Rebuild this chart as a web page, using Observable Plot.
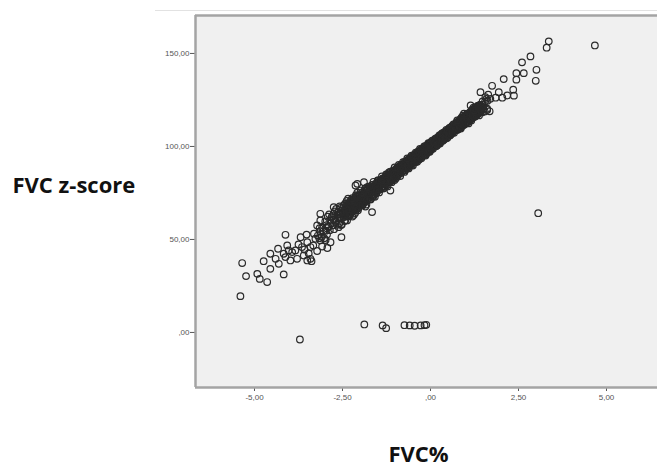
<!DOCTYPE html>
<html>
<head>
<meta charset="utf-8">
<script src="https://cdn.jsdelivr.net/npm/d3@7"></script>
<script src="https://cdn.jsdelivr.net/npm/@observablehq/plot@0.6"></script>
<style>
  html, body { margin: 0; padding: 0; background: #ffffff; }
  #wrap { position: relative; width: 657px; height: 469px; overflow: hidden; }
  #topline { position: absolute; top: 10px; left: 155px; right: 0; height: 1px; background: #e2e2e2; }
</style>
</head>
<body>
<div id="wrap"><div id="topline"></div></div>
<script>
// x: FVC z-score value, y: FVC % predicted (axis titles as in the original figure)
const xTicks = [-5, -2.5, 0, 2.5, 5];
const yTicks = [0, 50, 100, 150];
const xTitle = "FVC%";
const yTitle = "FVC z-score";

const bandLow = [
[-3.20,52.1],[-3.16,50.7],[-3.15,56.1],[-3.13,54.4],
[-3.09,51.5],[-3.08,56.3],[-3.04,54.4],[-3.02,50.7],
[-2.99,59.7],[-2.97,54.7],[-2.95,57.7],[-2.94,52.6],[-2.92,62.2],[-2.91,57.1],
[-2.90,56.5],[-2.88,63.5],[-2.86,55.0],[-2.85,60.4],[-2.83,58.7],[-2.81,61.8],
[-2.79,62.6],[-2.77,57.6],[-2.75,60.6],[-2.74,55.5],[-2.72,65.1],[-2.71,60.0],
[-2.70,59.4],[-2.68,66.4],[-2.66,57.9],[-2.65,63.3],[-2.63,61.6],[-2.61,64.7],
[-2.59,58.7],[-2.58,63.6],[-2.56,66.9],[-2.54,61.7],[-2.53,65.6],[-2.52,58.0],
[-2.49,66.9],[-2.47,61.9],[-2.45,65.0],[-2.44,59.9],[-2.42,69.4],[-2.41,64.3],
[-2.40,63.7],[-2.38,70.7],[-2.36,62.3],[-2.35,67.7],[-2.33,66.0],[-2.31,69.0],
[-2.29,63.1],[-2.28,67.9],[-2.26,71.2],[-2.24,66.0],[-2.23,69.9],[-2.22,62.3],
[-2.19,71.3],[-2.17,66.3],[-2.15,69.3],[-2.14,64.2],[-2.12,73.8],[-2.11,68.7],
[-2.10,68.1],[-2.08,75.1],[-2.06,66.6],[-2.05,72.0],[-2.03,70.3],[-2.01,73.4]
];

const bandMid = [
[-1.99,68.9],[-1.98,71.9],[-1.96,74.0],[-1.94,71.0],[-1.93,73.4],[-1.92,68.9],
[-1.89,74.4],[-1.87,71.5],[-1.85,73.5],[-1.84,70.5],[-1.82,76.3],[-1.81,73.3],
[-1.80,73.0],[-1.78,77.3],[-1.76,72.4],[-1.75,75.7],[-1.73,74.8],[-1.71,76.7],
[-1.69,73.3],[-1.68,76.2],[-1.66,78.3],[-1.64,75.3],[-1.63,77.7],[-1.62,73.2],
[-1.59,78.8],[-1.57,75.9],[-1.55,77.8],[-1.54,74.8],[-1.52,80.7],[-1.51,77.7],
[-1.50,77.4],[-1.48,81.7],[-1.46,76.7],[-1.45,80.0],[-1.43,79.1],[-1.41,81.1],
[-1.39,77.6],[-1.38,80.6],[-1.36,82.7],[-1.34,79.7],[-1.33,82.1],[-1.32,77.6],
[-1.29,83.1],[-1.27,80.2],[-1.25,82.2],[-1.24,79.2],[-1.22,85.0],[-1.21,82.0],
[-1.20,81.7],[-1.18,86.0],[-1.16,81.1],[-1.15,84.4],[-1.13,83.5],[-1.11,85.4],
[-1.09,82.0],[-1.08,84.9],[-1.06,87.0],[-1.04,84.0],[-1.03,86.4],[-1.02,81.9],
[-0.99,86.9],[-0.97,85.0],[-0.95,86.4],[-0.94,84.5],[-0.92,88.5],[-0.91,86.5],
[-0.90,86.4],[-0.88,89.3],[-0.86,86.1],[-0.85,88.4],[-0.83,87.9],[-0.81,89.3],
[-0.79,87.1],[-0.78,89.1],[-0.76,90.6],[-0.74,88.7],[-0.73,90.3],[-0.72,87.4],
[-0.69,91.2],[-0.67,89.4],[-0.65,90.8],[-0.64,88.8],[-0.62,92.8],[-0.61,90.9],
[-0.60,90.7],[-0.58,93.7],[-0.56,90.5],[-0.55,92.7],[-0.53,92.2],[-0.51,93.6],
[-0.49,91.4],[-0.48,93.4],[-0.46,94.9],[-0.44,93.0],[-0.43,94.7],[-0.42,91.7],
[-0.39,95.6],[-0.37,93.7],[-0.35,95.1],[-0.34,93.2],[-0.32,97.2],[-0.31,95.2],
[-0.30,95.1],[-0.28,98.0],[-0.26,94.8],[-0.25,97.1],[-0.23,96.6],[-0.21,98.0],
[-0.19,95.8],[-0.18,97.8],[-0.16,99.3],[-0.14,97.4],[-0.13,99.0],[-0.12,96.1],
[-0.09,99.9],[-0.07,98.1],[-0.05,99.5],[-0.04,97.5],[-0.02,101.5],[-0.01,99.6],
[0.00,99.4],[0.02,102.4],[0.04,99.2],[0.05,101.4],[0.07,100.9],[0.09,102.3],
[0.11,100.1],[0.12,102.1],[0.14,103.6],[0.16,101.7],[0.17,103.4],[0.18,100.4],
[0.21,104.3],[0.23,102.4],[0.25,103.8],[0.26,101.9],[0.28,105.9],[0.29,103.9],
[0.30,103.8],[0.32,106.7],[0.34,103.5],[0.35,105.8],[0.37,105.3],[0.39,106.7],
[0.41,104.5],[0.42,106.5],[0.44,108.0],[0.46,106.1],[0.47,107.7],[0.48,104.8],
[0.51,108.6],[0.53,106.8],[0.55,108.2],[0.56,106.2],[0.58,110.2],[0.59,108.3],
[0.60,108.1],[0.62,111.1],[0.64,107.9],[0.65,110.1],[0.67,109.6],[0.69,111.0],
[0.71,108.8],[0.72,110.8],[0.74,112.3],[0.76,110.4],[0.77,112.1],[0.78,109.1]
];

const bandCore = [
[-2.60,63.5],[-2.58,61.6],[-2.56,63.3],[-2.54,61.6],[-2.52,65.3],
[-2.50,63.6],[-2.48,64.8],[-2.46,63.1],[-2.44,64.6],[-2.42,66.3],
[-2.40,66.4],[-2.38,64.5],[-2.36,66.2],[-2.34,64.5],[-2.32,68.2],
[-2.30,66.5],[-2.28,67.7],[-2.26,66.0],[-2.24,67.5],[-2.22,69.2],
[-2.20,69.3],[-2.18,67.4],[-2.16,69.1],[-2.14,67.4],[-2.12,71.1],
[-2.10,69.4],[-2.08,70.6],[-2.06,68.9],[-2.04,70.4],[-2.02,72.1],
[-2.00,72.2],[-1.98,70.3],[-1.96,72.0],[-1.94,70.3],[-1.92,74.0],
[-1.90,72.3],[-1.88,73.5],[-1.86,71.8],[-1.84,73.3],[-1.82,75.0],
[-1.80,74.5],[-1.78,73.7],[-1.76,74.7],[-1.74,74.0],[-1.72,76.0],
[-1.70,75.3],[-1.68,76.0],[-1.66,75.3],[-1.64,76.2],[-1.62,77.2],
[-1.60,77.4],[-1.58,76.6],[-1.56,77.6],[-1.54,76.9],[-1.52,78.9],
[-1.50,78.2],[-1.48,78.9],[-1.46,78.2],[-1.44,79.1],[-1.42,80.1],
[-1.40,80.3],[-1.38,79.5],[-1.36,80.5],[-1.34,79.8],[-1.32,81.8],
[-1.30,81.1],[-1.28,81.8],[-1.26,81.1],[-1.24,82.0],[-1.22,83.0],
[-1.20,83.2],[-1.18,82.4],[-1.16,83.4],[-1.14,82.7],[-1.12,84.7],
[-1.10,84.0],[-1.08,84.7],[-1.06,84.0],[-1.04,84.9],[-1.02,85.9],
[-1.00,86.1],[-0.98,85.3],[-0.96,86.3],[-0.94,85.6],[-0.92,87.6],
[-0.90,86.9],[-0.88,87.6],[-0.86,86.9],[-0.84,87.8],[-0.82,88.8],
[-0.80,89.0],[-0.78,88.2],[-0.76,89.2],[-0.74,88.5],[-0.72,90.5],
[-0.70,89.8],[-0.68,90.5],[-0.66,89.8],[-0.64,90.7],[-0.62,91.7],
[-0.60,91.9],[-0.58,91.1],[-0.56,92.1],[-0.54,91.4],[-0.52,93.4],
[-0.50,92.7],[-0.48,93.4],[-0.46,92.7],[-0.44,93.6],[-0.42,94.6],
[-0.40,94.8],[-0.38,94.0],[-0.36,95.0],[-0.34,94.3],[-0.32,96.3],
[-0.30,95.6],[-0.28,96.3],[-0.26,95.6],[-0.24,96.5],[-0.22,97.5],
[-0.20,97.7],[-0.18,96.9],[-0.16,97.9],[-0.14,97.2],[-0.12,99.2],
[-0.10,98.5],[-0.08,99.2],[-0.06,98.5],[-0.04,99.4],[-0.02,100.4],
[0.00,100.6],[0.02,99.8],[0.04,100.8],[0.06,100.1],[0.08,102.1],
[0.10,101.4],[0.12,102.1],[0.14,101.4],[0.16,102.3],[0.18,103.3],
[0.20,103.5],[0.22,102.7],[0.24,103.7],[0.26,103.0],[0.28,105.0],
[0.30,104.3],[0.32,105.0],[0.34,104.3],[0.36,105.2],[0.38,106.2],
[0.40,106.4],[0.42,105.6],[0.44,106.6],[0.46,105.9],[0.48,107.9],
[0.50,107.2],[0.52,107.9],[0.54,107.2],[0.56,108.1],[0.58,109.1],
[0.60,109.3],[0.62,108.5],[0.64,109.5],[0.66,108.8],[0.68,110.8],
[0.70,110.1],[0.72,110.8],[0.74,110.1],[0.76,111.0],[0.78,112.0],
[0.80,112.2],[0.82,111.4],[0.84,112.4],[0.86,111.7],[0.88,113.7],
[0.90,113.0],[0.92,113.7],[0.94,113.0],[0.96,113.9],[0.98,114.9],
[1.00,115.1],[1.02,114.3],[1.04,115.3],[1.06,114.6],[1.08,116.6],
[1.10,115.9],[1.12,116.6],[1.14,115.9],[1.16,116.8],[1.18,117.8],
[1.20,118.0],[1.22,117.2],[1.24,118.2],[1.26,117.5],[1.28,119.5],
[1.30,118.8],[1.32,119.5],[1.34,118.8],[1.36,119.7],[1.38,120.7],
[1.40,120.9],[1.42,120.1],[1.44,121.1],[1.46,120.4],[1.48,122.4]
];

const bandUpperEdge = [
[-2.39,68.2],[-2.35,69.5],[-2.31,68.9],[-2.27,70.4],[-2.23,70.7],
[-2.19,71.1],[-2.15,72.4],[-2.11,71.8],[-2.07,73.3],[-2.03,73.6],
[-1.99,74.0],[-1.95,75.3],[-1.91,74.7],[-1.87,76.2],[-1.83,76.5],
[-1.79,76.9],[-1.75,78.2],[-1.71,77.6],[-1.67,79.1],[-1.63,79.4],
[-1.59,78.8],[-1.55,79.9],[-1.51,79.7],[-1.47,80.9],[-1.43,81.3],
[-1.39,81.7],[-1.35,82.8],[-1.31,82.6],[-1.27,83.8],[-1.23,84.2],
[-1.19,84.6],[-1.15,85.7],[-1.11,85.5],[-1.07,86.7],[-1.03,87.1],
[-0.99,87.5],[-0.95,88.6],[-0.91,88.4],[-0.87,89.6],[-0.83,90.0],
[-0.79,90.4],[-0.75,91.5],[-0.71,91.3],[-0.67,92.5],[-0.63,92.9],
[-0.59,93.3],[-0.55,94.4],[-0.51,94.2],[-0.47,95.4],[-0.43,95.8],
[-0.39,96.2],[-0.35,97.3],[-0.31,97.1],[-0.27,98.3],[-0.23,98.7],
[-0.19,99.1],[-0.15,100.2],[-0.11,100.0],[-0.07,101.2],[-0.03,101.6],
[0.01,102.0],[0.05,103.1],[0.09,102.9],[0.13,104.1],[0.17,104.5],
[0.21,104.9],[0.25,106.0],[0.29,105.8],[0.33,107.0],[0.37,107.4],
[0.41,107.8],[0.45,108.9],[0.49,108.7],[0.53,109.9],[0.57,110.3],
[0.61,110.7],[0.65,111.8],[0.69,111.6],[0.73,112.8],[0.77,113.2],
[0.81,113.6],[0.85,114.7],[0.89,114.5],[0.93,115.7],[0.97,116.1],
[1.01,116.5],[1.05,117.6],[1.09,117.4],[1.13,118.6],[1.17,119.0],
[1.21,119.4],[1.25,120.5],[1.29,120.3],[1.33,121.5],[1.37,121.9],
[1.41,122.3]
];

const bandLowerEdge = [
[-2.37,62.8],[-2.33,62.8],[-2.29,64.5],[-2.25,64.3],[-2.21,65.3],
[-2.17,65.7],[-2.13,65.7],[-2.09,67.4],[-2.05,67.2],[-2.01,68.2],
[-1.97,68.6],[-1.93,68.6],[-1.89,70.3],[-1.85,70.1],[-1.81,71.1],
[-1.77,71.5],[-1.73,71.5],[-1.69,73.2],[-1.65,73.0],[-1.61,74.0],
[-1.57,75.4],[-1.53,75.5],[-1.49,76.9],[-1.45,76.9],[-1.41,77.7],
[-1.37,78.3],[-1.33,78.4],[-1.29,79.8],[-1.25,79.8],[-1.21,80.6],
[-1.17,81.2],[-1.13,81.3],[-1.09,82.7],[-1.05,82.7],[-1.01,83.5],
[-0.97,84.1],[-0.93,84.2],[-0.89,85.6],[-0.85,85.6],[-0.81,86.4],
[-0.77,87.0],[-0.73,87.1],[-0.69,88.5],[-0.65,88.5],[-0.61,89.3],
[-0.57,89.9],[-0.53,90.0],[-0.49,91.4],[-0.45,91.4],[-0.41,92.2],
[-0.37,92.8],[-0.33,92.9],[-0.29,94.3],[-0.25,94.3],[-0.21,95.1],
[-0.17,95.7],[-0.13,95.8],[-0.09,97.2],[-0.05,97.2],[-0.01,98.0],
[0.03,98.6],[0.07,98.7],[0.11,100.1],[0.15,100.1],[0.19,100.9],
[0.23,101.5],[0.27,101.6],[0.31,103.0],[0.35,103.0],[0.39,103.8],
[0.43,104.4],[0.47,104.5],[0.51,105.9],[0.55,105.9],[0.59,106.7],
[0.63,107.3],[0.67,107.4],[0.71,108.8],[0.75,108.8],[0.79,109.6],
[0.83,110.2],[0.87,110.3],[0.91,111.7],[0.95,111.7],[0.99,112.5],
[1.03,113.1],[1.07,113.2],[1.11,114.6],[1.15,114.6],[1.19,115.4],
[1.23,116.0],[1.27,116.1],[1.31,117.5],[1.35,117.5],[1.39,118.3],
[1.43,118.9]
];

const bandOuter = [
[-2.58,67.8],[-2.54,57.7],[-2.46,68.4],[-2.42,60.3],[-2.34,71.9],[-2.30,62.8],
[-2.22,72.2],[-2.18,63.2],[-2.10,73.4],[-2.06,65.7],[-1.98,76.3],[-1.94,68.3],
[-1.86,77.2],[-1.82,68.8],[-1.74,78.4],[-1.70,71.5],[-1.62,81.0],[-1.58,72.9],
[-1.50,81.7],[-1.46,75.3],[-1.38,83.9],[-1.34,77.4],[-1.26,85.0],[-1.22,78.5],
[-1.14,86.5],[-1.10,80.8],[-1.02,88.7],[-0.98,82.9],[-0.90,90.1],[-0.86,84.1],
[-0.78,91.6],[-0.74,86.3],[-0.66,93.6],[-0.62,88.2],[-0.54,95.0],[-0.50,89.7],
[-0.42,96.6],[-0.38,91.8],[-0.30,98.7],[-0.26,93.6],[-0.18,100.0],[-0.14,95.1],
[-0.06,101.8],[-0.02,97.1]
];

const bandHigh = [
[0.81,113.6],[0.83,110.7],[0.85,112.6],[0.86,109.6],[0.88,115.5],[0.89,112.5],
[0.90,112.2],[0.92,116.5],[0.94,111.5],[0.95,114.8],[0.97,113.9],[0.99,115.9],
[1.01,112.4],[1.02,115.4],[1.04,117.5],[1.06,114.5],[1.07,116.9],[1.08,112.4],
[1.11,117.9],[1.13,115.0],[1.15,117.0],[1.16,114.0],[1.18,119.8],[1.19,116.8],
[1.20,116.5],[1.22,120.8],[1.24,115.9],[1.25,119.2],[1.27,118.3],[1.29,120.2],
[1.31,116.8],[1.32,119.7],[1.34,121.8],[1.36,118.8],[1.37,121.2],[1.38,116.7],
[1.41,122.3],[1.43,119.4],[1.45,121.3],[1.46,118.3],[1.48,124.2],[1.49,121.2],
[1.50,120.3],[1.54,118.8],[1.55,124.2],[1.59,125.6],
[1.61,119.6],[1.62,124.5],[1.64,127.8],[1.68,118.9]
];

const halo = [
[-2.13,79.0],[-1.89,80.8],[-2.08,79.9],[-1.80,78.1],[-1.66,64.7],[-1.85,67.7],[-1.14,76.3],
[-2.75,67.4],[-3.13,63.8],[-2.53,51.2],[-2.84,48.5],[-3.41,39.6],[-2.61,56.6],[-2.37,60.2],
[0.76,114.0],[0.95,117.6],[1.14,122.0],[1.23,119.4],[1.56,126.5],[1.70,125.6],[1.61,120.3],[1.42,129.2]
];

const lowerTail = [
[-5.40,19.5],[-5.35,37.3],[-5.24,30.3],[-4.92,31.5],[-4.85,28.8],[-4.64,27.1],[-4.74,38.3],
[-4.55,34.2],[-4.55,42.3],[-4.40,39.6],[-4.31,36.9],[-4.17,31.2],[-4.33,45.0],[-4.12,52.5],
[-4.03,44.1],[-4.17,42.3],[-3.84,44.1],[-3.38,38.3],[-4.07,46.8],[-3.93,43.2],[-3.79,39.6],
[-3.65,45.9],[-3.50,48.5],[-3.69,51.2],[-3.31,53.1],[-3.41,45.9],[-3.13,49.5],[-3.13,60.2],
[-2.75,63.8],[-3.22,57.5],[-3.50,38.7],[-3.98,38.7],[-4.12,40.5],[-3.60,41.4],
[-3.75,47.3],[-3.58,44.6],[-3.46,42.5],[-3.33,46.8],[-3.22,43.8],[-3.08,46.2],[-2.98,49.7],
[-3.52,52.6],[-3.27,50.4],[-2.93,45.4]
];

const upperTail = [
[3.36,156.5],[3.30,153.1],[4.67,154.3],[2.84,148.4],[2.60,145.2],[3.01,141.2],[2.99,135.3],
[2.44,139.4],[2.65,139.4],[2.44,135.9],[2.08,136.2],[1.75,132.6],[2.35,130.5],[2.37,127.3],
[1.94,129.2],[2.04,126.2],[2.18,127.4],[1.85,126.2]
];

const outliers = [
[3.06,64.1],[-3.71,-3.8],[-1.88,4.3],[-1.36,3.8],[-1.26,2.3],[-0.74,3.9],
[-0.59,3.8],[-0.45,3.6],[-0.28,3.8],[-0.17,3.9],[-0.12,4.1]
];

const xDomain = [-6.676, 6.449];
const yDomain = [-29.6, 170.4];

const points = [...bandLow, ...bandMid, ...bandCore, ...bandUpperEdge, ...bandLowerEdge, ...bandOuter,
  ...bandHigh, ...halo, ...lowerTail, ...upperTail, ...outliers].map(([z, v]) => ({z, v}));

const fmt = d => d === 0 ? ",00" : d.toFixed(2).replace(".", ",");

const chart = Plot.plot({
  width: 657,
  height: 469,
  marginLeft: 195,
  marginRight: 0,
  marginTop: 15,
  marginBottom: 82,
  style: {background: "transparent", fontFamily: "'Liberation Sans', Arial, sans-serif", fontSize: "8px", color: "#555"},
  x: {domain: xDomain, ticks: xTicks, tickFormat: fmt, tickSize: 4, tickPadding: 3, label: null},
  y: {domain: yDomain, ticks: yTicks, tickFormat: fmt, tickSize: 5, tickPadding: 1, label: null},
  marks: [
    Plot.frame({fill: "#f0f0f0", stroke: null}),
    Plot.ruleX([xDomain[0]], {stroke: "#a4a4a4", strokeWidth: 2.5}),
    Plot.ruleY([yDomain[0], yDomain[1]], {stroke: "#a4a4a4", strokeWidth: 2.5}),
    Plot.dot(points, {x: "z", y: "v", r: 3.3, stroke: "#2a2a2a", strokeWidth: 1.2, fill: "none"}),
    Plot.text([yTitle], {frameAnchor: "left", text: d => d, textAnchor: "start", lineAnchor: "middle",
      dx: -183, dy: -16, fontSize: 22, fontWeight: "bold", fill: "#111", fontFamily: "'Open Sans', sans-serif",
      letterSpacing: "1px"}),
    Plot.text([xTitle], {frameAnchor: "bottom", text: d => d, textAnchor: "middle", lineAnchor: "middle",
      dx: -8, dy: 67, fontSize: 22, fontWeight: "bold", fill: "#111", fontFamily: "'Open Sans', sans-serif",
      letterSpacing: "0.6px"})
  ]
});
document.getElementById("wrap").appendChild(chart);
</script>
</body>
</html>
